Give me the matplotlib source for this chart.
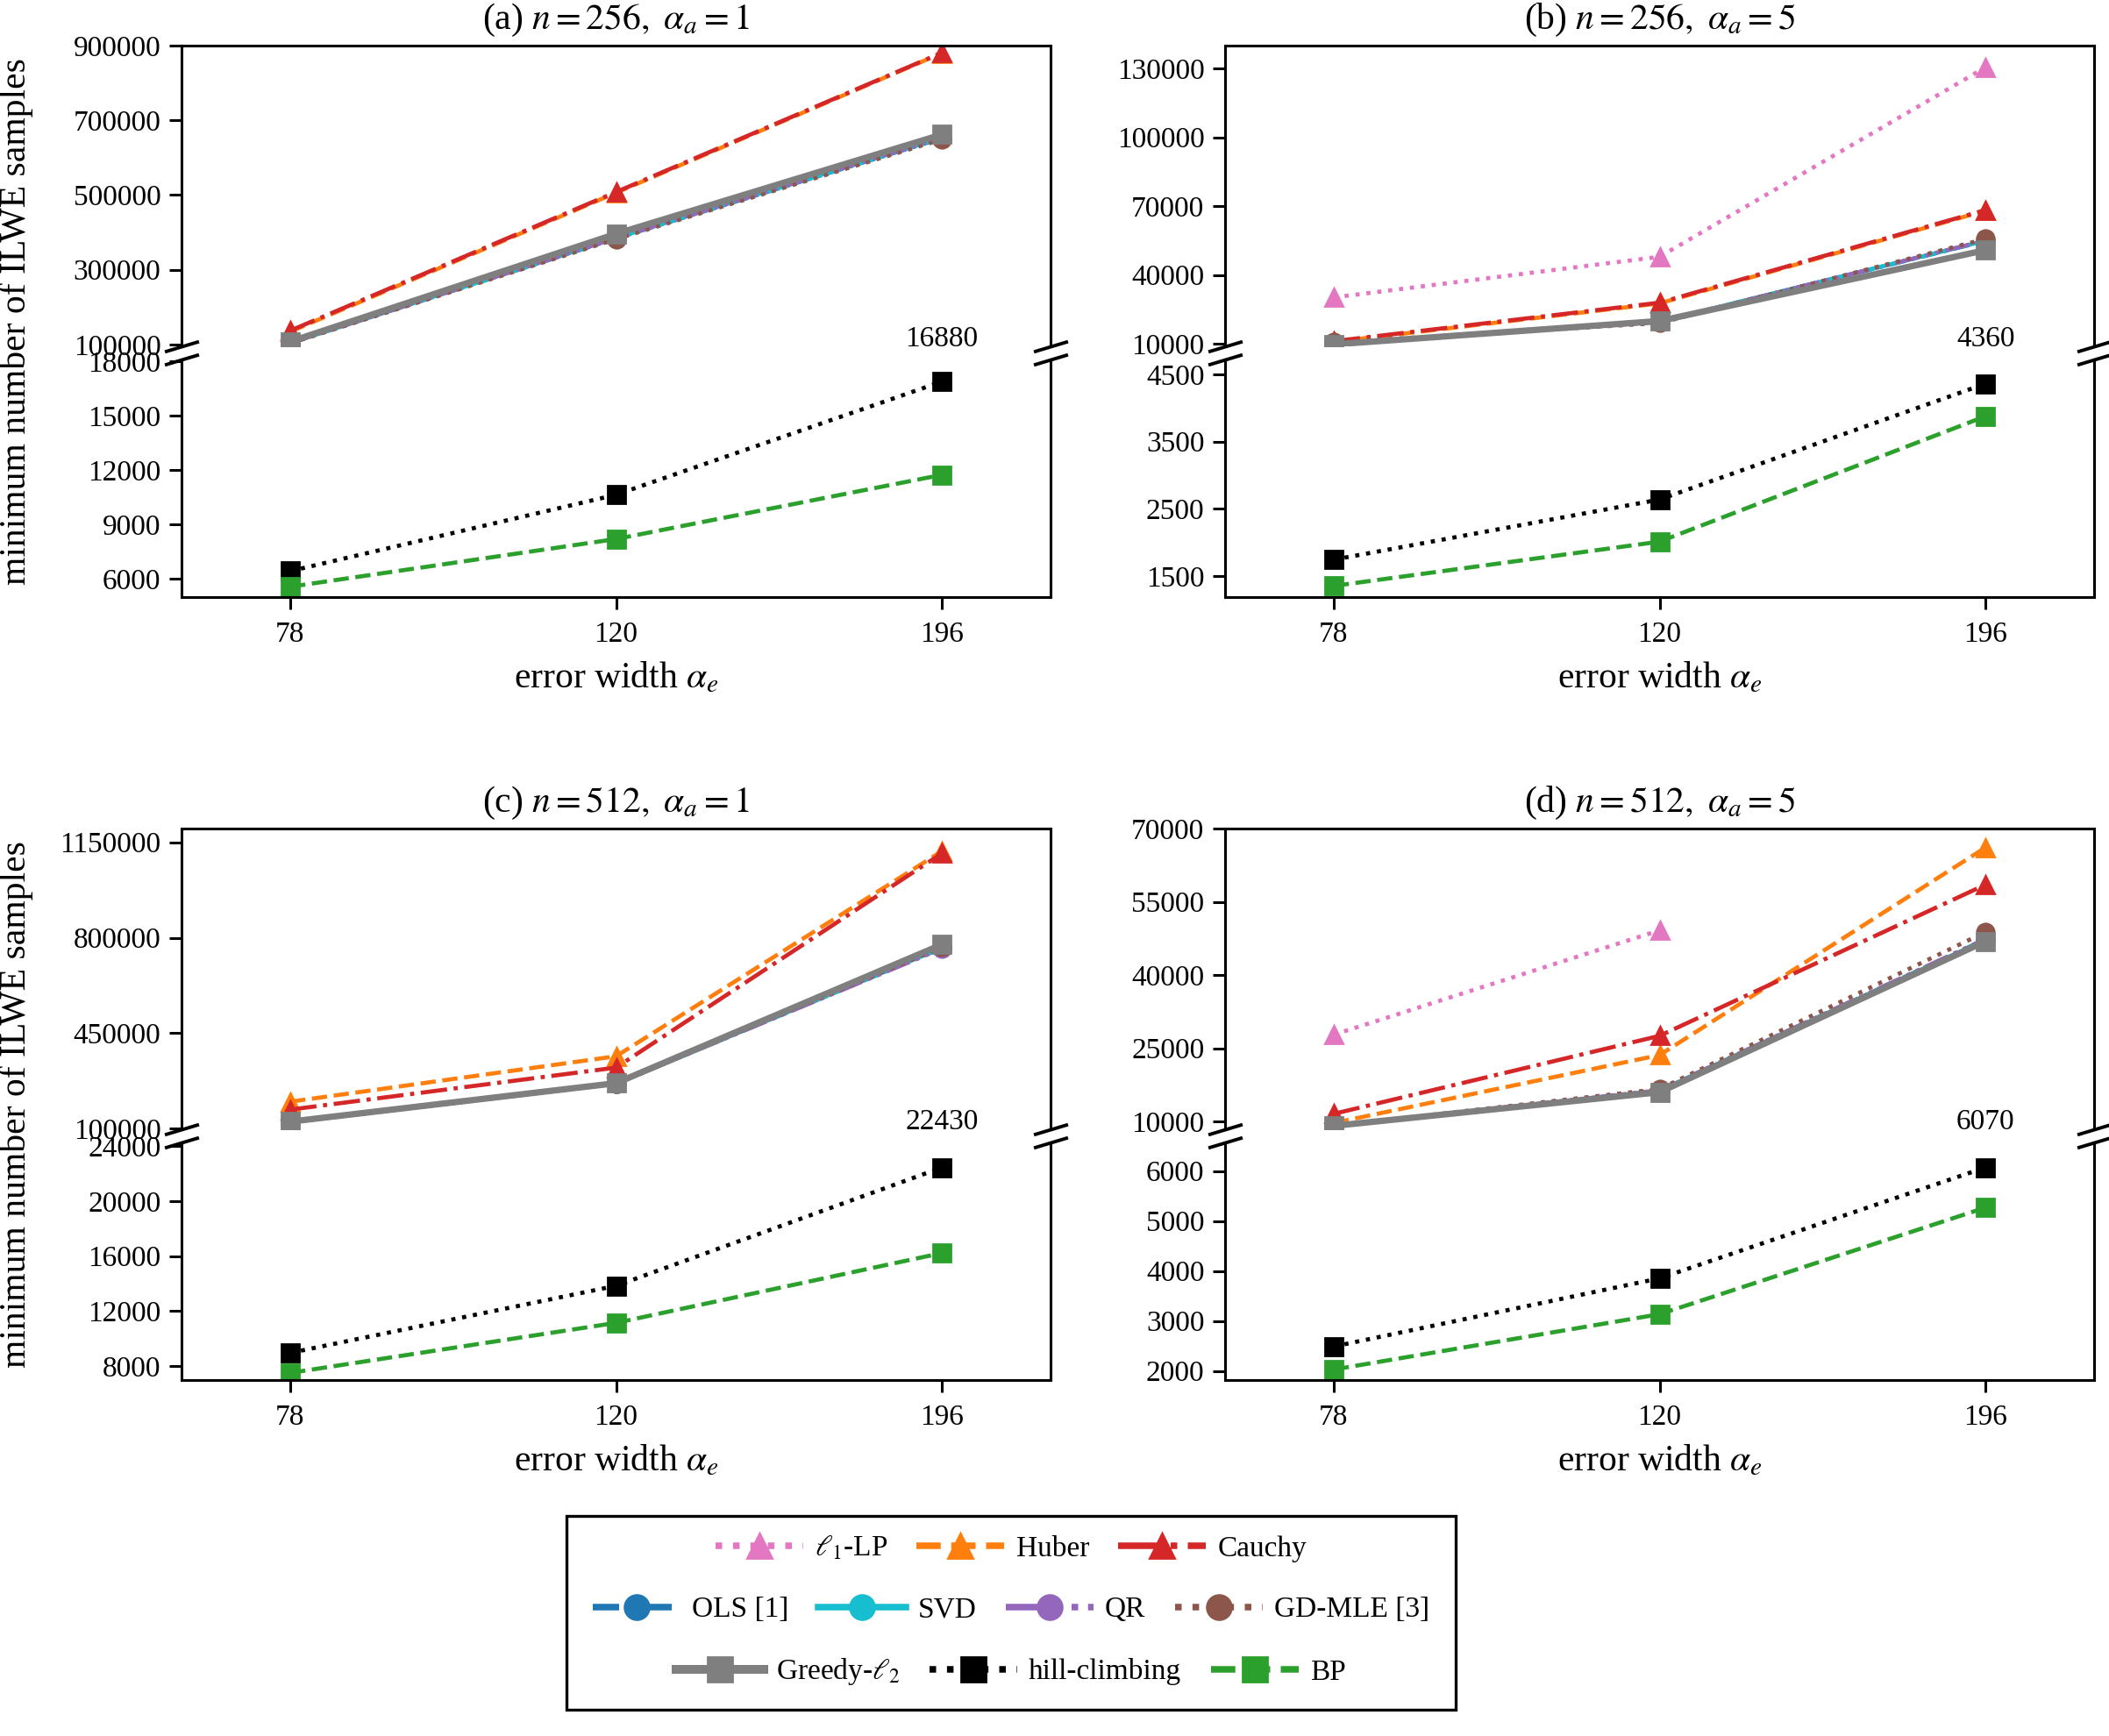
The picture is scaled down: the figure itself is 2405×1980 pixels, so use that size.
import numpy as np
import matplotlib
matplotlib.use('Agg')
import matplotlib.pyplot as plt
from matplotlib.lines import Line2D
from matplotlib.patches import Rectangle
from matplotlib.ticker import FormatStrFormatter

plt.rcParams['font.family'] = ['Liberation Serif', 'DejaVu Serif']
plt.rcParams['mathtext.fontset'] = 'stix'

nan = np.nan
widths = ['78', '120', '196']

# (a) n=256, alpha_a=1
a_l1lp = [nan, nan, nan]
a_huber = [134000, 506000, 880000]
a_cauchy = [136800, 508000, 881000]
a_ols = [104000, 384000, 652000]
a_svd = [104000, 385000, 653000]
a_qr = [104000, 385000, 654000]
a_gdmle = [103000, 382000, 649000]
a_greedy = [107500, 396000, 662000]
a_hill = [6430, 10640, 16880]
a_bp = [5570, 8200, 11740]

# (b) n=256, alpha_a=5
b_l1lp = [30200, 47900, 130500]
b_huber = [10800, 27600, 68000]
b_cauchy = [11100, 27900, 68300]
b_ols = [10000, 19600, 54800]
b_svd = [10000, 19600, 54900]
b_qr = [10000, 19500, 55000]
b_gdmle = [10600, 19000, 55700]
b_greedy = [9700, 19900, 50800]
b_hill = [1744, 2638, 4360]
b_bp = [1354, 2012, 3876]

# (c) n=512, alpha_a=1
c_l1lp = [nan, nan, nan]
c_huber = [199000, 365500, 1117000]
c_cauchy = [170000, 324000, 1109000]
c_ols = [124000, 265000, 762000]
c_svd = [124000, 265000, 763000]
c_qr = [124000, 265000, 760000]
c_gdmle = [124000, 266000, 765000]
c_greedy = [126000, 267000, 775000]
c_hill = [8970, 13840, 22430]
c_bp = [7520, 11150, 16220]

# (d) n=512, alpha_a=5
d_l1lp = [27770, 49150, nan]
d_huber = [9700, 23600, 66100]
d_cauchy = [11560, 27540, 58500]
d_ols = [9000, 16300, 47300]
d_svd = [9000, 16300, 47200]
d_qr = [9000, 16400, 47400]
d_gdmle = [9100, 16640, 48800]
d_greedy = [9100, 16000, 46900]
d_hill = [2490, 3853, 6070]
d_bp = [2030, 3136, 5267]

titles = [r'(a) $n = 256,\ \alpha_a = 1$', r'(b) $n = 256,\ \alpha_a = 5$',
          r'(c) $n = 512,\ \alpha_a = 1$', r'(d) $n = 512,\ \alpha_a = 5$']

top_ticks = [[100000, 300000, 500000, 700000, 900000],
             [10000, 40000, 70000, 100000, 130000],
             [100000, 450000, 800000, 1150000],
             [10000, 25000, 40000, 55000, 70000]]
bot_ticks = [[6000, 9000, 12000, 15000, 18000],
             [1500, 2500, 3500, 4500],
             [8000, 12000, 16000, 20000, 24000],
             [2000, 3000, 4000, 5000, 6000]]
top_lims = [(95000, 900000), (8860, 140000), (98000, 1200000), (8400, 70000)]
bot_lims = [(5000, 18100), (1188, 4720), (7000, 24250), (1820, 6570)]

# name, label, color, linestyle, marker, linewidth
styles = [
    ('l1lp', r'$\ell_1$-LP', '#e377c2', ':', '^', 1.7),
    ('huber', 'Huber', '#ff7f0e', '--', '^', 1.7),
    ('cauchy', 'Cauchy', '#d62728', '-.', '^', 1.7),
    ('ols', 'OLS [1]', '#1f77b4', (0, (4, 1.5, 1, 1.5)), 'o', 1.7),
    ('svd', 'SVD', '#17becf', '-', 'o', 1.7),
    ('qr', 'QR', '#9467bd', (0, (6, 1.5, 1, 1.5, 1, 1.5)), 'o', 1.7),
    ('gdmle', 'GD-MLE [3]', '#8c564b', ':', 'o', 1.7),
    ('greedy', r'Greedy-$\ell_2$', '#7f7f7f', '-', 's', 2.6),
    ('hill', 'hill-climbing', 'black', ':', 's', 1.7),
    ('bp', 'BP', '#2ca02c', '--', 's', 1.7),
]

panels = []
for p in 'abcd':
    panels.append({s[0]: globals()[p + '_' + s[0]] for s in styles})

W, H = 2405, 1980
fig = plt.figure(figsize=(W / 200, H / 200), dpi=200)


def box(x0, x1, y0, y1):
    return [x0 / W, 1 - y1 / H, (x1 - x0) / W, (y1 - y0) / H]


cols = [(207, 1198), (1397, 2388)]
rows = [(52, 395, 410, 681), (945, 1288, 1303, 1574)]
xs = np.arange(len(widths))

for i, data in enumerate(panels):
    x0, x1 = cols[i % 2]
    t0, t1, b0, b1 = rows[i // 2]
    ax_t = fig.add_axes(box(x0, x1, t0, t1))
    ax_b = fig.add_axes(box(x0, x1, b0, b1))

    for name, label, color, ls, mk, lw in styles:
        ax = ax_b if name in ('hill', 'bp') else ax_t
        ax.plot(xs, data[name], color=color, linestyle=ls, marker=mk,
                lw=lw, ms=7)

    for ax in (ax_t, ax_b):
        ax.set_xlim(-1 / 3, 2 + 1 / 3)
        for sp in ax.spines.values():
            sp.set_linewidth(1.1)
        ax.tick_params(direction='out', length=5, width=1.1, labelsize=12)
        ax.tick_params(axis='y', pad=3.5)
        ax.yaxis.set_major_formatter(FormatStrFormatter('%d'))

    ax_t.set_ylim(*top_lims[i])
    ax_b.set_ylim(*bot_lims[i])
    ax_t.set_yticks(top_ticks[i])
    ax_b.set_yticks(bot_ticks[i])
    ax_t.spines['bottom'].set_visible(False)
    ax_b.spines['top'].set_visible(False)
    ax_t.tick_params(axis='x', bottom=False, labelbottom=False)
    ax_b.set_xticks(xs)
    ax_b.set_xticklabels(widths)
    ax_b.tick_params(axis='x', pad=5)
    ax_b.set_xlabel(r'error width $\alpha_e$', fontsize=15, labelpad=5)
    ax_t.set_title(titles[i], fontsize=15, pad=7)

    # break marks
    kw = dict(marker=[(-1, -0.3), (1, 0.3)], markersize=14, linestyle='none',
              color='k', mec='k', mew=1.4, clip_on=False)
    ax_t.plot([0, 1], [0, 0], transform=ax_t.transAxes, **kw)
    ax_b.plot([0, 1], [1, 1], transform=ax_b.transAxes, **kw)

    # value of hill-climbing at the largest width
    ax_t.annotate(str(data['hill'][-1]), xy=(xs[-1], top_lims[i][0]),
                  xytext=(0, -2.5), textcoords='offset points',
                  ha='center', va='bottom', fontsize=12)

for r in rows:
    fig.text(19 / W, 1 - (r[0] + r[3]) / 2 / H, 'minimum number of ILWE samples',
             rotation=90, ha='center', va='center', fontsize=15)

# legend
fig.patches.append(Rectangle((646 / W, 1 - 1950 / H), (1660 - 646) / W,
                             (1950 - 1729) / H, transform=fig.transFigure,
                             fill=False, edgecolor='k', lw=1.2))
handles = [Line2D([], [], color=c, linestyle=ls, marker=mk, lw=lw + 1.0, ms=10)
           for _, _, c, ls, mk, lw in styles]
labels = [s[1] for s in styles]
groups = [(0, 3, 1766), (3, 7, 1836), (7, 10, 1907)]
for g0, g1, y in groups:
    fig.legend(handles[g0:g1], labels[g0:g1], loc='center',
               bbox_to_anchor=(1153 / W, 1 - y / H), ncol=g1 - g0,
               frameon=False, fontsize=12, handlelength=3.0,
               handletextpad=0.4, columnspacing=1.0, borderpad=0)

fig.savefig('out.png', dpi=200)
